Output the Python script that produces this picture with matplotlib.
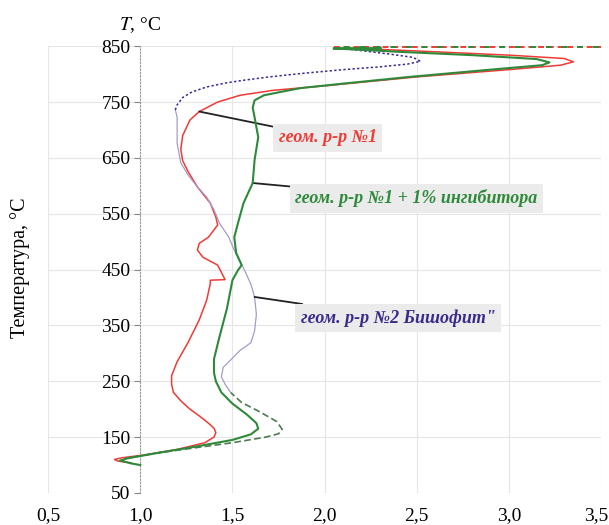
import matplotlib
matplotlib.use("Agg")
import matplotlib.pyplot as plt
import matplotlib.transforms as mtrans

# Данные кривых (x - отношение, T - температура, °C)
red_x = [0.95, 0.88, 0.86, 0.90, 1.02, 1.20, 1.35, 1.40, 1.41, 1.40, 1.37, 1.32, 1.27, 1.22, 1.18,
         1.17, 1.17, 1.20, 1.26, 1.32, 1.36, 1.38, 1.38, 1.46, 1.42, 1.34, 1.31, 1.32, 1.37, 1.42,
         1.41, 1.38, 1.31, 1.26, 1.23, 1.22, 1.23, 1.27, 1.32, 1.42, 1.54, 1.72, 2.00, 2.50, 3.00,
         3.28, 3.35, 3.30, 3.00, 2.60, 2.25]
red_t = [104, 107, 110, 113, 118, 128, 140, 150, 158, 166, 175, 188, 200, 215, 230,
         245, 260, 285, 320, 360, 395, 425, 431, 432, 458, 472, 485, 497, 508, 530,
         544, 569, 598, 625, 645, 665, 690, 718, 733, 750, 762, 771, 779, 795, 808,
         816, 822, 828, 834, 840, 845]

green_x = [1.00, 0.95, 0.89, 0.93, 1.10, 1.30, 1.50, 1.60, 1.64, 1.63, 1.58, 1.50, 1.44, 1.41,
           1.40, 1.40, 1.43, 1.47, 1.50, 1.53, 1.55, 1.52, 1.51, 1.53, 1.56, 1.61, 1.62, 1.64,
           1.62, 1.61, 1.62, 1.67, 1.76, 1.87, 2.10, 2.46, 2.90, 3.18, 3.22, 3.15, 2.80, 2.40, 2.05]
green_t = [100, 103, 108, 112, 122, 133, 145, 155, 165, 175, 190, 210, 230, 250,
           265, 290, 330, 380, 431, 449, 458, 480, 508, 533, 569, 605, 646, 687,
           723, 740, 753, 762, 768, 775, 783, 795, 808, 816, 821, 827, 834, 840, 846]

# нижняя часть р-ра №2 (пунктир)
purple_low_x = [0.92, 1.10, 1.30, 1.50, 1.68, 1.75, 1.77, 1.74, 1.65, 1.55, 1.49]
purple_low_t = [112, 122, 131, 140, 150, 156, 164, 178, 195, 212, 230]
# средняя часть (тонкая линия)
purple_mid_x = [1.49, 1.46, 1.44, 1.45, 1.49, 1.54, 1.60, 1.62, 1.63, 1.62, 1.60, 1.56, 1.51,
                1.48, 1.43, 1.40, 1.36, 1.31, 1.26, 1.22, 1.20, 1.20, 1.19]
purple_mid_t = [230, 245, 258, 275, 288, 305, 319, 340, 370, 401, 424, 453, 485,
                508, 533, 557, 580, 598, 619, 641, 676, 723, 736]
# верхняя часть (точки)
purple_top_x = [1.19, 1.20, 1.23, 1.28, 1.36, 1.46, 1.56, 1.70, 1.87, 2.10, 2.30, 2.45, 2.52,
                2.48, 2.35, 2.20, 2.10]
purple_top_t = [736, 745, 758, 768, 777, 784, 789, 795, 801, 808, 813, 818, 823,
                830, 836, 842, 846]

top_x = [2.05, 3.5]
top_t = [849, 849]

x_ticks = [0.5, 1.0, 1.5, 2.0, 2.5, 3.0, 3.5]
x_labels = ["0,5", "1,0", "1,5", "2,0", "2,5", "3,0", "3,5"]
y_ticks = [50, 150, 250, 350, 450, 550, 650, 750, 850]

plt.rcParams['font.family'] = ['Liberation Serif', 'DejaVu Serif']
plt.rcParams['mathtext.fontset'] = 'stix'

fig = plt.figure(figsize=(6.09, 5.25), dpi=100)
ax = fig.add_axes([0.079, 0.061, 0.908, 0.851])

c_red = '#ef3b36'
c_green = '#2e8a3a'
c_purple = '#3b2a8c'
c_lpurple = '#a59cc9'

ax.plot(red_x, red_t, color=c_red, lw=1.1, clip_on=False, zorder=3)
ax.plot(purple_low_x, purple_low_t, color='#4c7a52', lw=1.2, ls=(0, (4, 2)), clip_on=False, zorder=3)
ax.plot(purple_mid_x, purple_mid_t, color=c_lpurple, lw=0.9, clip_on=False, zorder=3)
ax.plot(purple_top_x, purple_top_t, color=c_purple, lw=1.1, ls=(0, (1.5, 1.5)), clip_on=False, zorder=3)
ax.plot(green_x, green_t, color=c_green, lw=1.5, clip_on=False, zorder=4)
ax.plot(top_x, top_t, color=c_red, lw=1.4, ls=(0, (3, 2)), clip_on=False, zorder=3)
ax.plot(top_x, top_t, color=c_green, lw=1.4, ls=(3, (3, 5)), clip_on=False, zorder=3)
ax.plot([2.05, 2.3], [847, 847], color=c_green, lw=2, clip_on=False, zorder=4)

ax.set_xlim(0.5, 3.5)
ax.set_ylim(50, 850)
ax.set_xticks(x_ticks)
ax.set_xticklabels(x_labels, fontsize=14)
ax.set_yticks(y_ticks)
ax.tick_params(axis='y', labelsize=14, length=4, color='#888888', pad=3)
ax.tick_params(axis='x', length=0, pad=10)
ax.grid(True, color='#e6e6e6', lw=0.8)
ax.set_axisbelow(True)

# последняя подпись "3,5" чуть левее, чтобы не обрезалась
last = ax.get_xticklabels()[-1]
last.set_transform(last.get_transform() + mtrans.ScaledTranslation(-5 / 100, 0, fig.dpi_scale_trans))

for s in ['top', 'right', 'bottom']:
    ax.spines[s].set_visible(False)
ax.spines['left'].set_position(('data', 1.0))
ax.spines['left'].set_linestyle((0, (1, 2)))
ax.spines['left'].set_color('#999999')

ax.text(1.0, 870, "$T$, °C", fontsize=14, ha='center', va='bottom', clip_on=False)
fig.text(0.033, 0.49, "Температура, °C", rotation=90, fontsize=14.5, ha='center', va='center')

# подписи кривых
box = dict(boxstyle='square,pad=0.3', facecolor='#ebebeb', edgecolor='none')
lab_kw = dict(fontsize=13, style='italic', weight='bold', va='center', bbox=box)
line_kw = dict(arrowstyle='-', color='#222222', lw=1.3, shrinkA=0, shrinkB=0)
ax.annotate("геом. р-р №1", xy=(1.32, 733), xytext=(1.75, 686),
            color=c_red, arrowprops=line_kw, **lab_kw)
ax.annotate("геом. р-р №1 + 1% ингибитора", xy=(1.61, 605), xytext=(1.84, 578),
            color=c_green, arrowprops=line_kw, **lab_kw)
ax.annotate("геом. р-р №2 Бишофит\"", xy=(1.62, 401), xytext=(1.87, 363),
            color=c_purple, arrowprops=line_kw, **lab_kw)

fig.savefig("out.png", dpi=100)
